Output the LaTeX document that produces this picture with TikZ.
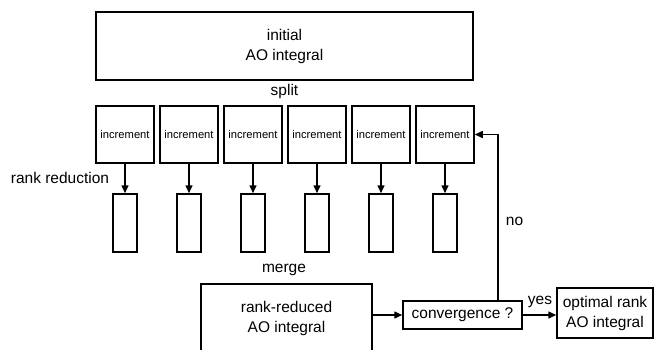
\documentclass[tikz,border=0pt]{standalone}
\usepackage{fontspec}
\setmainfont{Liberation Sans}
\usetikzlibrary{arrows.meta}

\tikzset{
  box/.style={draw, line width=1.5pt, rectangle, inner sep=0pt, align=center,
              font=\fontsize{15.5}{20}\selectfont},
  incbox/.style={box, minimum width=58pt, minimum height=57pt,
                 font=\fontsize{11.2}{13}\selectfont},
  redbox/.style={box, minimum width=24pt, minimum height=58pt},
  lbl/.style={inner sep=0pt, font=\fontsize{15.5}{20}\selectfont},
  flow/.style={line width=1.5pt, -{Triangle[length=8pt,width=7pt]}},
}

\begin{document}
\begin{tikzpicture}[x=1pt, y=-1pt]
  \useasboundingbox (0,0) rectangle (656,349);
  \clip (0,0) rectangle (656,349);

  % starting integral
  \node[box, minimum width=377pt, minimum height=68pt] (init) at (284.5,46) {initial\\AO integral};
  \node[lbl] (split) at (284.5,91) {split};

  % increments and their rank-reduced pieces
  \foreach \i in {1,...,6} {
    \pgfmathsetmacro{\cx}{125+64*(\i-1)}
    \node[incbox] (inc\i) at (\cx,134.5) {increment};
    \node[redbox] (red\i) at (\cx,223) {};
    \draw[flow] (inc\i.south) -- (red\i.north);
  }
  \node[lbl] (rankred) at (60,178) {rank reduction};

  % merged result (runs past the lower edge)
  \node[lbl] (merge) at (284,270) {merge};
  \node[box, minimum width=171pt, minimum height=76pt] (rr) at (286.5,322) {};
  \node[lbl, align=center] (rrtext) at (286.5,318) {rank-reduced\\AO integral};

  % convergence test
  \node[box, minimum width=119pt, minimum height=28pt] (conv) at (462.5,315) {convergence ?};
  \node[box, minimum width=96pt, minimum height=50pt] (opt) at (605,313) {optimal rank\\AO integral};
  \node[lbl] (yes) at (540,302) {yes};
  \node[lbl] (no) at (514.5,221) {no};

  \draw[flow] (rr.east |- conv.west) -- (conv.west);
  \draw[flow] (conv.east) -- (opt.west |- conv.east);

  % loop back when not converged
  \coordinate (turn) at (498,134.5);
  \draw[flow] (conv.north -| turn) -- (turn) -- (inc6.east);
\end{tikzpicture}
\end{document}
